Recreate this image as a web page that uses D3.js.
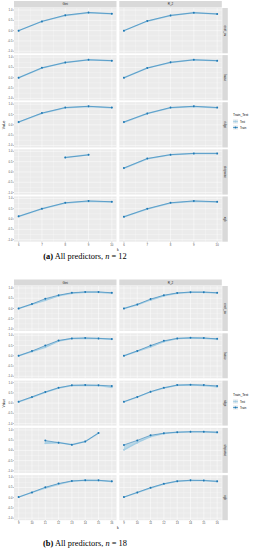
<!DOCTYPE html>
<html>
<head>
<meta charset="utf-8">
<script src="https://cdn.jsdelivr.net/npm/d3@7"></script>
<style>
  body { margin: 0; background: #fff; }
  svg { display: block; }
  text { font-family: "Liberation Sans", Arial, sans-serif; }
</style>
</head>
<body>
<script>
/******************/
/*     data       */
/******************/
var metrics = ["Gini", "R_2"];
var methods = ["enet_cv", "lasso", "ridge", "stepwise", "xgb"];
var groups = ["Test", "Train"];
var yTicks = [1.0, 0.5, 0.0, -0.5, -1.0];
var yTickLabels = ["1.0", "0.5", "0.0", "-0.5", "-1.0"];

// (a) n = 12
var kA = [6, 7, 8, 9, 10];
var trainA = [
  [[0.00, 0.45, 0.75, 0.88, 0.82], [0.00, 0.47, 0.74, 0.87, 0.81]],
  [[0.00, 0.48, 0.74, 0.87, 0.83], [0.00, 0.47, 0.75, 0.87, 0.83]],
  [[0.14, 0.57, 0.84, 0.90, 0.84], [0.14, 0.55, 0.84, 0.90, 0.84]],
  [[null, null, 0.70, 0.83, null], [0.19, 0.65, 0.84, 0.90, 0.90]],
  [[0.13, 0.50, 0.79, 0.88, 0.84], [0.11, 0.50, 0.79, 0.88, 0.84]]
];
var testA = [
  [[0.00, 0.45, 0.74, 0.87, 0.82], [0.00, 0.46, 0.74, 0.87, 0.81]],
  [[0.00, 0.47, 0.74, 0.87, 0.82], [0.00, 0.47, 0.74, 0.87, 0.82]],
  [[0.13, 0.56, 0.83, 0.89, 0.83], [0.13, 0.55, 0.83, 0.89, 0.83]],
  [[null, null, 0.70, 0.83, null], [0.18, 0.64, 0.84, 0.90, 0.90]],
  [[0.12, 0.50, 0.78, 0.87, 0.83], [0.11, 0.49, 0.78, 0.87, 0.83]]
];

// (b) n = 18
var kB = [9, 10, 11, 12, 13, 14, 15, 16];
var trainB = [
  [[0.00, 0.22, 0.48, 0.65, 0.77, 0.81, 0.81, 0.77], [0.00, 0.20, 0.46, 0.65, 0.76, 0.80, 0.80, 0.77]],
  [[0.00, 0.23, 0.50, 0.75, 0.85, 0.87, 0.85, 0.82], [0.00, 0.24, 0.50, 0.73, 0.85, 0.88, 0.87, 0.83]],
  [[0.07, 0.30, 0.54, 0.75, 0.87, 0.88, 0.87, 0.84], [0.07, 0.30, 0.56, 0.75, 0.88, 0.90, 0.88, 0.84]],
  [[null, null, 0.48, 0.38, 0.28, 0.43, 0.85, null], [0.27, 0.49, 0.74, 0.84, 0.89, 0.91, 0.91, 0.89]],
  [[0.03, 0.26, 0.51, 0.69, 0.82, 0.85, 0.85, 0.80], [0.03, 0.26, 0.49, 0.68, 0.81, 0.85, 0.84, 0.80]]
];
var testB = [
  [[0.00, 0.21, 0.40, 0.62, 0.75, 0.80, 0.80, 0.75], [0.00, 0.18, 0.42, 0.62, 0.74, 0.79, 0.79, 0.76]],
  [[0.00, 0.21, 0.42, 0.72, 0.84, 0.86, 0.84, 0.81], [0.00, 0.22, 0.44, 0.70, 0.84, 0.87, 0.86, 0.81]],
  [[0.06, 0.29, 0.53, 0.74, 0.86, 0.87, 0.86, 0.78], [0.06, 0.29, 0.55, 0.74, 0.87, 0.89, 0.86, 0.80]],
  [[null, null, 0.35, 0.38, 0.28, 0.43, 0.85, null], [0.03, 0.38, 0.68, 0.83, 0.89, 0.91, 0.91, 0.88]],
  [[0.03, 0.26, 0.47, 0.66, 0.81, 0.85, 0.84, 0.79], [0.03, 0.25, 0.47, 0.67, 0.80, 0.84, 0.84, 0.79]]
];

/******************/
/*   layout       */
/******************/
var colX = [14, 119.3];
var panelW = 102.5;
var stripW = 5.5;
var col = { Test: "#A6CEE3", Train: "#1F78B4" };

var svg = d3.select("body").append("svg")
  .attr("width", 254).attr("height", 550);

drawFigure({ k: kA, train: trainA, test: testA, stripTop: 1, stripH: 6.5,
  top: 8, step: 47.1, ph: 45.3, legendY: 116, caption: ["(a)", " All predictors, ", "n", " = 12"], capY: 259 });
drawFigure({ k: kB, train: trainB, test: testB, stripTop: 279.5, stripH: 6,
  top: 286, step: 47.3, ph: 45, legendY: 396, caption: ["(b)", " All predictors, ", "n", " = 18"], capY: 546 });

function drawFigure(cfg) {
  var n = cfg.k.length;
  var kext = d3.extent(cfg.k);
  var pad = (kext[1] - kext[0]) * 0.05;
  var bottom = cfg.top + (methods.length - 1) * cfg.step + cfg.ph;

  // column strips on top
  metrics.forEach(function(m, c) {
    svg.append("rect").attr("x", colX[c]).attr("y", cfg.stripTop)
      .attr("width", panelW).attr("height", cfg.stripH).attr("fill", "#D9D9D9");
    svg.append("text").attr("x", colX[c] + panelW / 2).attr("y", cfg.stripTop + cfg.stripH / 2 + 1)
      .attr("text-anchor", "middle").attr("font-size", 3).attr("fill", "#1A1A1A").text(m);
  });

  methods.forEach(function(meth, r) {
    var py = cfg.top + r * cfg.step;
    var y = d3.scaleLinear().domain([-1.1, 1.1]).range([py + cfg.ph, py]);

    // row strip on the right
    var sx = colX[1] + panelW + 0.5;
    svg.append("rect").attr("x", sx).attr("y", py)
      .attr("width", stripW).attr("height", cfg.ph).attr("fill", "#D9D9D9");
    svg.append("text")
      .attr("transform", "translate(" + (sx + stripW / 2 - 1) + "," + (py + cfg.ph / 2) + ") rotate(90)")
      .attr("text-anchor", "middle").attr("font-size", 3).attr("fill", "#1A1A1A").text(meth);

    metrics.forEach(function(m, c) {
      var x = d3.scaleLinear().domain([kext[0] - pad, kext[1] + pad]).range([colX[c], colX[c] + panelW]);
      var g = svg.append("g");
      g.append("rect").attr("x", colX[c]).attr("y", py)
        .attr("width", panelW).attr("height", cfg.ph).attr("fill", "#EBEBEB");

      // minor grid
      [0.75, 0.25, -0.25, -0.75].forEach(function(v) {
        g.append("line").attr("x1", colX[c]).attr("x2", colX[c] + panelW)
          .attr("y1", y(v)).attr("y2", y(v)).attr("stroke", "#fff").attr("stroke-width", 0.25);
      });
      for (var i = 0; i < n - 1; i++) {
        var mx = x((cfg.k[i] + cfg.k[i + 1]) / 2);
        g.append("line").attr("x1", mx).attr("x2", mx).attr("y1", py).attr("y2", py + cfg.ph)
          .attr("stroke", "#fff").attr("stroke-width", 0.25);
      }
      // major grid
      yTicks.forEach(function(v) {
        g.append("line").attr("x1", colX[c]).attr("x2", colX[c] + panelW)
          .attr("y1", y(v)).attr("y2", y(v)).attr("stroke", "#fff").attr("stroke-width", 0.5);
      });
      cfg.k.forEach(function(v) {
        g.append("line").attr("x1", x(v)).attr("x2", x(v)).attr("y1", py).attr("y2", py + cfg.ph)
          .attr("stroke", "#fff").attr("stroke-width", 0.5);
      });

      var tr = cfg.train[r][c], te = cfg.test[r][c];
      var pts = cfg.k.map(function(kv, i) { return { k: kv, tr: tr[i], te: te[i] }; })
        .filter(function(d) { return d.tr != null && d.te != null; });

      // ribbon between test and train
      var band = d3.area().x(function(d) { return x(d.k); })
        .y0(function(d) { return y(Math.min(d.tr, d.te)); })
        .y1(function(d) { return y(Math.max(d.tr, d.te)); });
      g.append("path").datum(pts).attr("d", band).attr("fill", col.Test).attr("opacity", 0.7);

      [["te", "Test", 1.5], ["tr", "Train", 0.55]].forEach(function(s) {
        var line = d3.line().x(function(d) { return x(d.k); }).y(function(d) { return y(d[s[0]]); });
        g.append("path").datum(pts).attr("d", line).attr("fill", "none")
          .attr("stroke", col[s[1]]).attr("stroke-width", s[2]);
      });
      [["te", "Test"], ["tr", "Train"]].forEach(function(s) {
        g.selectAll(null).data(pts).enter().append("circle")
          .attr("cx", function(d) { return x(d.k); })
          .attr("cy", function(d) { return y(d[s[0]]); })
          .attr("r", 1).attr("fill", col[s[1]]);
      });

      // x axis on last row
      if (r === methods.length - 1) {
        cfg.k.forEach(function(v) {
          svg.append("line").attr("x1", x(v)).attr("x2", x(v)).attr("y1", bottom).attr("y2", bottom + 1)
            .attr("stroke", "#333").attr("stroke-width", 0.3);
          svg.append("text").attr("x", x(v)).attr("y", bottom + 3.8).attr("text-anchor", "middle")
            .attr("font-size", 2.8).attr("fill", "#4D4D4D").text(v);
        });
      }
    });

    // y axis on first column
    yTicks.forEach(function(v, i) {
      svg.append("line").attr("x1", colX[0] - 1).attr("x2", colX[0]).attr("y1", y(v)).attr("y2", y(v))
        .attr("stroke", "#333").attr("stroke-width", 0.3);
      svg.append("text").attr("x", colX[0] - 1.5).attr("y", y(v) + 1).attr("text-anchor", "end")
        .attr("font-size", 2.8).attr("fill", "#4D4D4D").text(yTickLabels[i]);
    });
  });

  // axis titles
  svg.append("text").attr("x", (colX[0] + colX[1] + panelW) / 2).attr("y", bottom + 9)
    .attr("text-anchor", "middle").attr("font-size", 3.5).attr("fill", "#000").text("k");
  svg.append("text")
    .attr("transform", "translate(4.5," + (cfg.top + bottom) / 2 + ") rotate(-90)")
    .attr("text-anchor", "middle").attr("font-size", 3.5).attr("fill", "#000").text("Value");

  // legend
  var lx = 233, ly = cfg.legendY;
  svg.append("text").attr("x", lx).attr("y", ly).attr("font-size", 3.3).attr("fill", "#000").text("Train_Test");
  groups.forEach(function(gname, i) {
    var ky = ly + 3 + i * 6;
    svg.append("rect").attr("x", lx).attr("y", ky).attr("width", 5).attr("height", 5).attr("fill", "#F2F2F2");
    svg.append("rect").attr("x", lx).attr("y", ky + 1.5).attr("width", 5).attr("height", 2)
      .attr("fill", col.Test).attr("opacity", 0.5);
    svg.append("line").attr("x1", lx).attr("x2", lx + 5).attr("y1", ky + 2.5).attr("y2", ky + 2.5)
      .attr("stroke", col[gname]).attr("stroke-width", 0.6);
    svg.append("circle").attr("cx", lx + 2.5).attr("cy", ky + 2.5).attr("r", 0.9).attr("fill", col[gname]);
    svg.append("text").attr("x", lx + 7).attr("y", ky + 3.6).attr("font-size", 2.8).attr("fill", "#000").text(gname);
  });

  // caption
  var cap = svg.append("text").attr("x", 85).attr("y", cfg.capY).attr("text-anchor", "middle")
    .attr("font-size", 8.4).attr("fill", "#000").style("font-family", "'Liberation Serif', serif");
  cap.append("tspan").attr("font-weight", "bold").text(cfg.caption[0]);
  cap.append("tspan").text(cfg.caption[1]);
  cap.append("tspan").attr("font-style", "italic").text(cfg.caption[2]);
  cap.append("tspan").text(cfg.caption[3]);
}
</script>
</body>
</html>
